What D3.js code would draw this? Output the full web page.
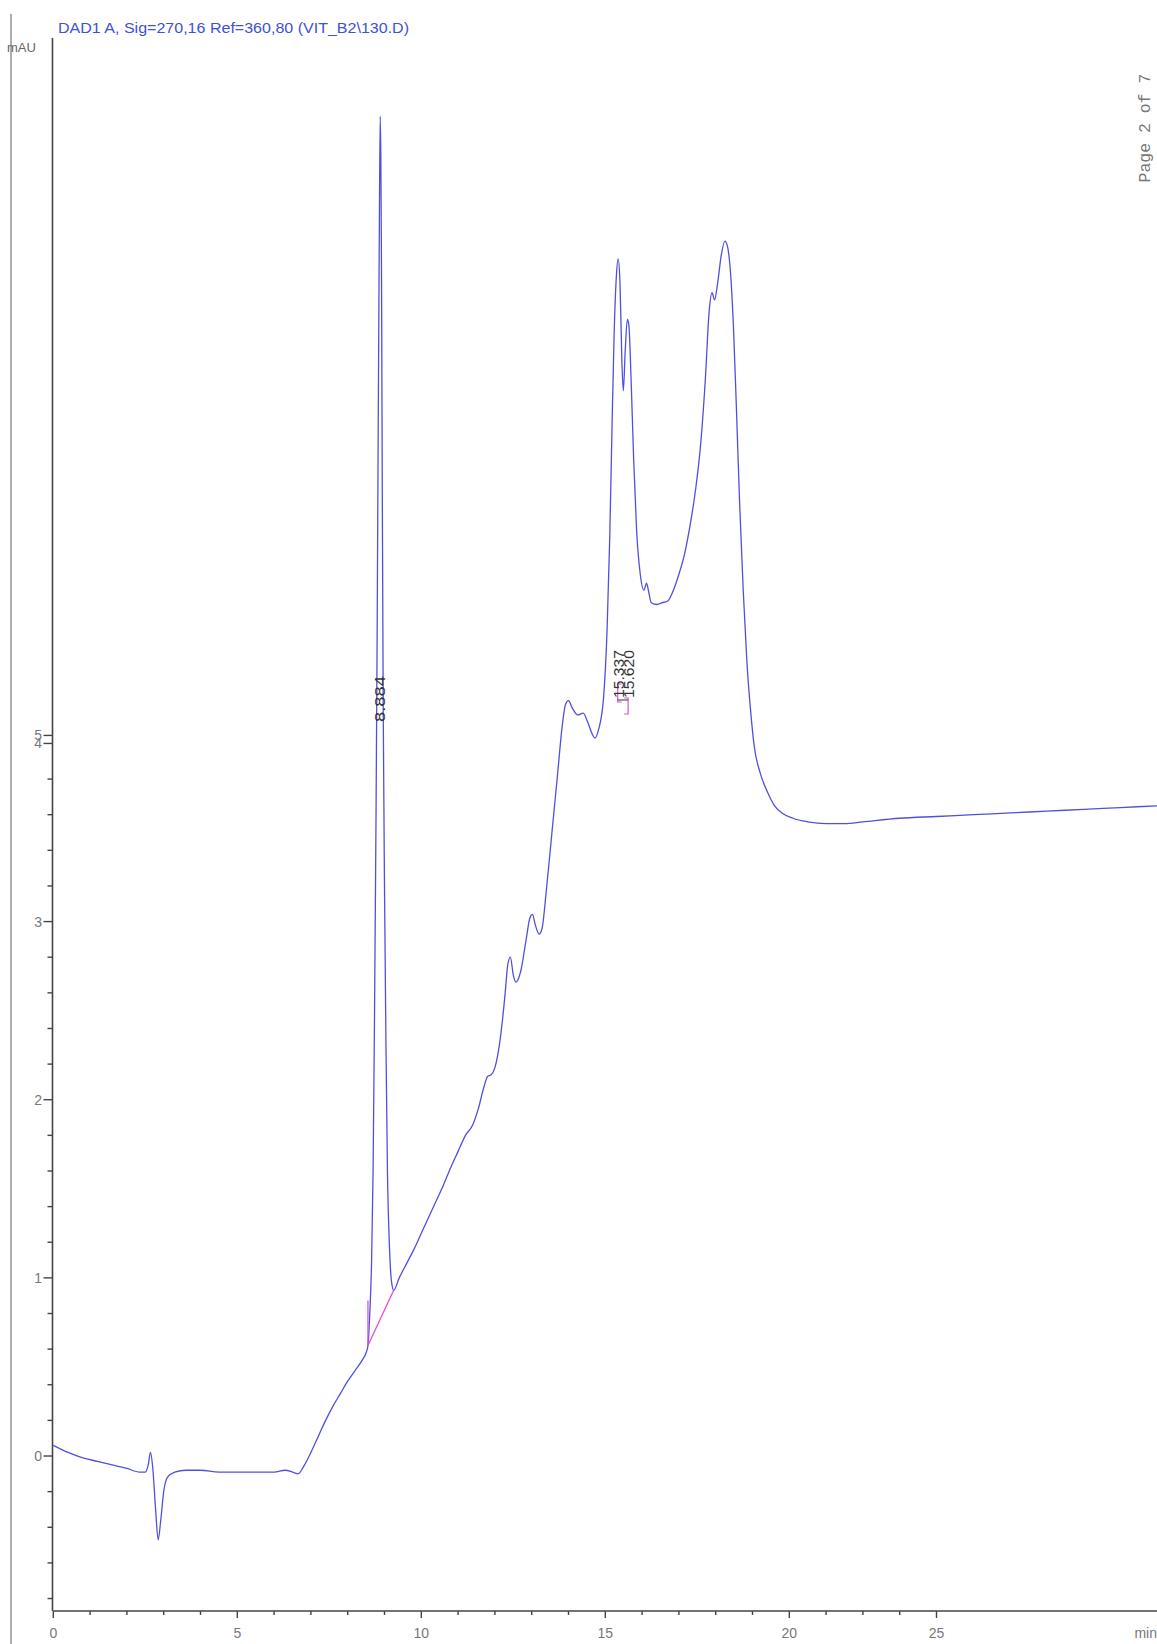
<!DOCTYPE html>
<html>
<head>
<meta charset="utf-8">
<script src="https://d3js.org/d3.v7.min.js"></script>
<style>
    body { margin: 0; background: #ffffff; }
    text { font-family: "Liberation Sans", Arial, sans-serif; }
</style>
</head>
<body>
<div id="chrom"></div>
<script>
// signal trace (min, mAU)
let retTime = [
    0.00, 0.40, 0.80, 1.20, 1.60, 2.00, 2.35, 2.50, 2.58, 2.64, 2.70, 2.78, 2.85, 2.92, 3.00, 3.10,
    3.30, 3.60, 4.00, 4.50, 5.00, 5.50, 6.00, 6.30, 6.50, 6.65, 6.80, 7.00, 7.20, 7.40, 7.60, 7.80,
    8.00, 8.20, 8.40, 8.50, 8.55, 8.60, 8.65, 8.69, 8.73, 8.77, 8.80, 8.83, 8.86, 8.884, 8.90, 8.92,
    8.94, 8.965, 9.00, 9.04, 9.08, 9.13, 9.19, 9.25, 9.40, 9.60, 9.80, 10.00, 10.20, 10.40, 10.60, 10.80,
    11.00, 11.20, 11.40, 11.55, 11.70, 11.80, 11.90, 12.00, 12.15, 12.28, 12.35, 12.42, 12.50, 12.57, 12.70, 12.85,
    12.95, 13.02, 13.10, 13.20, 13.28, 13.40, 13.55, 13.70, 13.82, 13.92, 14.00, 14.10, 14.25, 14.40, 14.52, 14.65,
    14.72, 14.82, 14.95, 15.05, 15.12, 15.18, 15.24, 15.30, 15.35, 15.40, 15.45, 15.49, 15.54, 15.60, 15.64, 15.70,
    15.77, 15.85, 15.95, 16.05, 16.12, 16.18, 16.25, 16.40, 16.55, 16.70, 16.85, 17.00, 17.15, 17.30, 17.45, 17.60,
    17.72, 17.82, 17.90, 17.97, 18.05, 18.15, 18.25, 18.32, 18.40, 18.48, 18.56, 18.65, 18.75, 18.85, 18.95, 19.05,
    19.20, 19.40, 19.60, 19.80, 20.10, 20.50, 21.00, 21.50, 22.00, 23.00, 24.00, 25.00, 26.00, 27.00, 28.00, 29.00,
    30.00
];
let absorb = [
    0.06, 0.02, -0.01, -0.03, -0.05, -0.07, -0.09, -0.09, -0.05, 0.02, -0.06, -0.30, -0.47, -0.36, -0.20, -0.12,
    -0.09, -0.08, -0.08, -0.09, -0.09, -0.09, -0.09, -0.08, -0.09, -0.10, -0.06, 0.02, 0.11, 0.20, 0.28, 0.35,
    0.42, 0.48, 0.54, 0.58, 0.62, 0.80, 1.10, 1.60, 2.50, 3.60, 4.60, 5.80, 6.90, 7.52, 7.30, 6.60,
    5.40, 4.20, 3.20, 2.30, 1.60, 1.20, 0.98, 0.93, 1.00, 1.08, 1.16, 1.25, 1.34, 1.43, 1.52, 1.62,
    1.71, 1.80, 1.86, 1.95, 2.07, 2.13, 2.14, 2.18, 2.35, 2.60, 2.76, 2.80, 2.70, 2.66, 2.72, 2.90,
    3.02, 3.04, 2.98, 2.93, 2.96, 3.18, 3.50, 3.82, 4.08, 4.22, 4.24, 4.20, 4.16, 4.17, 4.12, 4.05,
    4.03, 4.08, 4.25, 4.65, 5.15, 5.75, 6.30, 6.62, 6.72, 6.58, 6.15, 5.98, 6.20, 6.38, 6.35, 6.05,
    5.60, 5.20, 4.95, 4.86, 4.90, 4.85, 4.79, 4.78, 4.79, 4.80, 4.86, 4.95, 5.06, 5.22, 5.42, 5.70,
    6.05, 6.42, 6.53, 6.49, 6.58, 6.74, 6.82, 6.79, 6.65, 6.35, 5.90, 5.35, 4.85, 4.45, 4.18, 3.98,
    3.84, 3.73, 3.65, 3.61, 3.58, 3.56, 3.55, 3.55, 3.56, 3.58, 3.59, 3.60, 3.61, 3.62, 3.63, 3.64,
    3.65
];

// integrated peaks
let peakRT = [8.884, 15.337, 15.620];
let peakText = ["8.884", "15.337", "15.620"];
// baseline drawn under the 8.884 peak: [start min, start mAU, end min, end mAU]
let peakBase = [8.55, 0.62, 9.25, 0.93];

// axis ticks (the printout puts its "25" label on the 24th minute mark)
let xMinor = [1, 2, 3, 4, 6, 7, 8, 9, 11, 12, 13, 14, 16, 17, 18, 19, 21, 22, 23];
let xMajor = [0, 5, 10, 15, 20, 24];
let xMajorText = ["0", "5", "10", "15", "20", "25"];
let yMinor = [-0.8, -0.6, -0.4, -0.2, 0.2, 0.4, 0.6, 0.8, 1.2, 1.4, 1.6, 1.8, 2.2, 2.4, 2.6, 2.8,
    3.2, 3.4, 3.6, 3.8];
let yMajor = [0, 1, 2, 3, 4, 4.045];
let yMajorText = ["0", "1", "2", "3", "4", "5"];

let title = "DAD1 A, Sig=270,16 Ref=360,80 (VIT_B2\\130.D)";
let pageText = "Page 2 of 7";

let W = 1157, H = 1644;

let svg = d3.select('#chrom')
    .append('svg')
    .attr('width', W)
    .attr('height', H);

let xScale = d3.scaleLinear()
    .domain([0, 30])
    .range([53.3, 1157.3]);
let yScale = d3.scaleLinear()
    .domain([-0.87, 7.96])
    .range([1611, 38]);

// left page border
svg.append('line')
    .attr('x1', 11).attr('x2', 11)
    .attr('y1', 14).attr('y2', H)
    .attr('stroke', '#9a9a9a')
    .attr('stroke-width', 1.6);

// title
svg.append('text')
    .attr('x', 58)
    .attr('y', 33)
    .attr('fill', '#4050d8')
    .attr('font-size', 14)
    .attr('textLength', 351)
    .attr('lengthAdjust', 'spacingAndGlyphs')
    .text(title);

svg.append('text')
    .attr('x', 7)
    .attr('y', 52)
    .attr('fill', '#666')
    .attr('font-size', 13)
    .text('mAU');

// page number, rotated
svg.append('text')
    .attr('transform', 'translate(1150,128) rotate(-90)')
    .attr('text-anchor', 'middle')
    .attr('fill', '#777')
    .attr('font-size', 16.5)
    .style('font-family', '"Liberation Mono", "DejaVu Sans Mono", monospace')
    .text(pageText);

// x axis
let xAxis = svg.append('g').attr('class', 'x_axis');
xAxis.append('line')
    .attr('x1', xScale(0)).attr('x2', W)
    .attr('y1', yScale.range()[0]).attr('y2', yScale.range()[0])
    .attr('stroke', '#444').attr('stroke-width', 1.6);
xAxis.selectAll('.minor')
    .data(xMinor).enter()
    .append('line')
    .attr('x1', function(d) { return xScale(d); })
    .attr('x2', function(d) { return xScale(d); })
    .attr('y1', 1611).attr('y2', 1615)
    .attr('stroke', '#444').attr('stroke-width', 1.4);
xAxis.selectAll('.major')
    .data(xMajor).enter()
    .append('line')
    .attr('x1', function(d) { return xScale(d); })
    .attr('x2', function(d) { return xScale(d); })
    .attr('y1', 1611).attr('y2', 1618)
    .attr('stroke', '#444').attr('stroke-width', 1.4);
xAxis.selectAll('text')
    .data(xMajor).enter()
    .append('text')
    .attr('x', function(d) { return xScale(d); })
    .attr('y', 1638)
    .attr('text-anchor', 'middle')
    .attr('fill', '#777')
    .attr('font-size', 14)
    .text(function(d, i) { return xMajorText[i]; });
xAxis.append('text')
    .attr('x', 1157)
    .attr('y', 1638)
    .attr('text-anchor', 'end')
    .attr('fill', '#777')
    .attr('font-size', 14)
    .text('min');

// y axis
let yAxis = svg.append('g').attr('class', 'y_axis');
yAxis.append('line')
    .attr('x1', 52.5).attr('x2', 52.5)
    .attr('y1', 38).attr('y2', 1611)
    .attr('stroke', '#444').attr('stroke-width', 1.6);
yAxis.selectAll('.minor')
    .data(yMinor).enter()
    .append('line')
    .attr('x1', 47.5).attr('x2', 52.5)
    .attr('y1', function(d) { return yScale(d); })
    .attr('y2', function(d) { return yScale(d); })
    .attr('stroke', '#444').attr('stroke-width', 1.4);
yAxis.selectAll('.major')
    .data(yMajor).enter()
    .append('line')
    .attr('x1', 43.5).attr('x2', 52.5)
    .attr('y1', function(d) { return yScale(d); })
    .attr('y2', function(d) { return yScale(d); })
    .attr('stroke', '#444').attr('stroke-width', 1.4);
yAxis.selectAll('text')
    .data(yMajor).enter()
    .append('text')
    .attr('x', 42)
    .attr('y', function(d) { return yScale(d) + 5; })
    .attr('text-anchor', 'end')
    .attr('fill', '#777')
    .attr('font-size', 14)
    .text(function(d, i) { return yMajorText[i]; });

// chromatogram trace
let trace = retTime.map(function(t, i) { return [t, absorb[i]]; });
let line = d3.line()
    .curve(d3.curveMonotoneX)
    .x(function(d) { return xScale(d[0]); })
    .y(function(d) { return yScale(d[1]); });
svg.append('path')
    .attr('d', line(trace))
    .attr('fill', 'none')
    .attr('stroke', '#5050e0')
    .attr('stroke-width', 1.3);

// integration baseline of the first peak
svg.append('line')
    .attr('x1', xScale(peakBase[0])).attr('y1', yScale(peakBase[1]))
    .attr('x2', xScale(peakBase[2])).attr('y2', yScale(peakBase[3]))
    .attr('stroke', '#e050d0').attr('stroke-width', 1.3);
svg.append('line')
    .attr('x1', xScale(peakBase[0])).attr('y1', yScale(peakBase[1]))
    .attr('x2', xScale(peakBase[0])).attr('y2', yScale(peakBase[1]) - 45)
    .attr('stroke', '#e050d0').attr('stroke-width', 1.3);

// peak start/stop marks near the 15 min pair
let markG = svg.append('g');
markG.append('path')
    .attr('d', 'M' + (xScale(peakRT[1]) + 4) + ',684 h-4 v18 h4')
    .attr('fill', 'none').attr('stroke', '#e050d0').attr('stroke-width', 1.2);
markG.append('path')
    .attr('d', 'M' + (xScale(peakRT[2]) - 4) + ',698 h4 v16 h-4')
    .attr('fill', 'none').attr('stroke', '#e050d0').attr('stroke-width', 1.2);
markG.append('line')
    .attr('x1', xScale(peakRT[1])).attr('x2', xScale(peakRT[2]))
    .attr('y1', 700).attr('y2', 700)
    .attr('stroke', '#555').attr('stroke-width', 1.2);

// retention time labels
svg.selectAll('.rt')
    .data(peakRT).enter()
    .append('text')
    .attr('class', 'rt')
    .attr('transform', function(d, i) {
        let y = i === 0 ? 722 : 698;
        let dx = i === 0 ? 5 : 6;
        return 'translate(' + (xScale(d) + dx) + ',' + y + ') rotate(-90)';
    })
    .attr('fill', '#333')
    .attr('font-size', 14)
    .attr('textLength', function(d, i) { return i === 0 ? 46 : 48; })
    .attr('lengthAdjust', 'spacingAndGlyphs')
    .text(function(d, i) { return peakText[i]; });
</script>
</body>
</html>
